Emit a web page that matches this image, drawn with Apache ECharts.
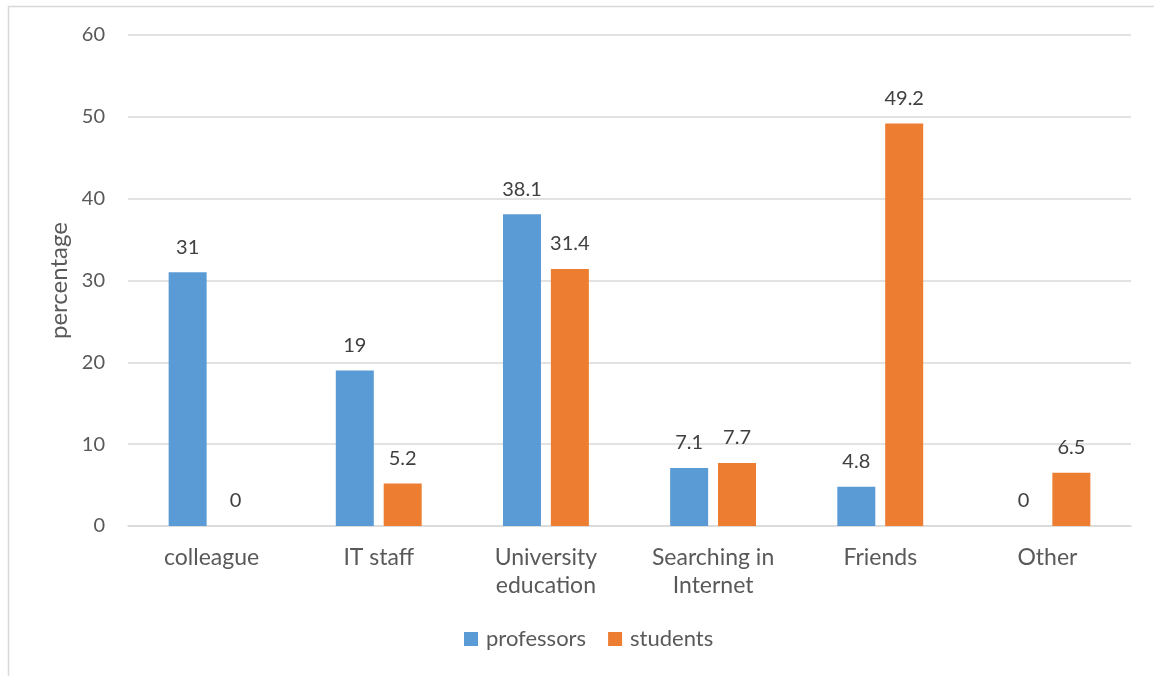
<!DOCTYPE html>
<html>
<head>
<meta charset="utf-8">
<style>
  html, body { margin: 0; padding: 0; background: #ffffff; }
  #chart { width: 1154px; height: 676px; }
</style>
<script src="https://cdn.jsdelivr.net/npm/echarts@6/dist/echarts.min.js"></script>
</head>
<body>
<div id="chart"></div>
<script>
// Sources of information, share of respondents (%)
const categories = ['colleague', 'IT staff', 'University\neducation', 'Searching in\nInternet', 'Friends', 'Other'];
const professors = [31, 19, 38.1, 7.1, 4.8, 0];
const students = [0, 5.2, 31.4, 7.7, 49.2, 6.5];
const yTicks = [0, 10, 20, 30, 40, 50, 60];

const FONT = 'Lato, "Open Sans", sans-serif';
const chart = echarts.init(document.getElementById('chart'));

const labelStyle = {
  show: true,
  position: 'top',
  distance: 15,
  color: '#404040',
  fontFamily: FONT,
  fontSize: 20
};

chart.setOption({
  animation: false,
  graphic: [{
    type: 'rect',
    shape: { x: 8.5, y: 6.5, width: 1150, height: 680 },
    style: { fill: 'none', stroke: '#d9d9d9', lineWidth: 1.5 },
    silent: true
  }],
  grid: { left: 128, right: 23, top: 35, bottom: 150, containLabel: false },
  legend: {
    bottom: 21,
    left: 459,
    itemWidth: 14,
    itemHeight: 14,
    itemGap: 22,
    icon: 'rect',
    textStyle: { color: '#595959', fontFamily: FONT, fontSize: 22, padding: [0, 0, 0, 3] },
    data: ['professors', 'students']
  },
  xAxis: {
    type: 'category',
    data: categories,
    axisLine: { lineStyle: { color: '#d9d9d9', width: 1.5 } },
    axisTick: { show: false },
    axisLabel: {
      color: '#595959',
      fontFamily: FONT,
      fontSize: 23,
      lineHeight: 28,
      margin: 18,
      interval: 0
    }
  },
  yAxis: {
    type: 'value',
    min: yTicks[0],
    max: yTicks[yTicks.length - 1],
    interval: 10,
    name: 'percentage',
    nameLocation: 'middle',
    nameGap: 55,
    nameRotate: 90,
    nameTextStyle: { color: '#595959', fontFamily: FONT, fontSize: 24 },
    axisLine: { show: false },
    axisTick: { show: false },
    splitLine: { lineStyle: { color: '#d9d9d9', width: 1.5 } },
    axisLabel: { color: '#595959', fontFamily: FONT, fontSize: 20, margin: 23 }
  },
  series: [
    {
      name: 'professors',
      type: 'bar',
      data: professors,
      barWidth: 38,
      barGap: '26%',
      itemStyle: { color: '#5b9bd5' },
      label: labelStyle
    },
    {
      name: 'students',
      type: 'bar',
      data: students,
      barWidth: 38,
      itemStyle: { color: '#ed7d31' },
      label: labelStyle
    }
  ]
});
</script>
</body>
</html>
